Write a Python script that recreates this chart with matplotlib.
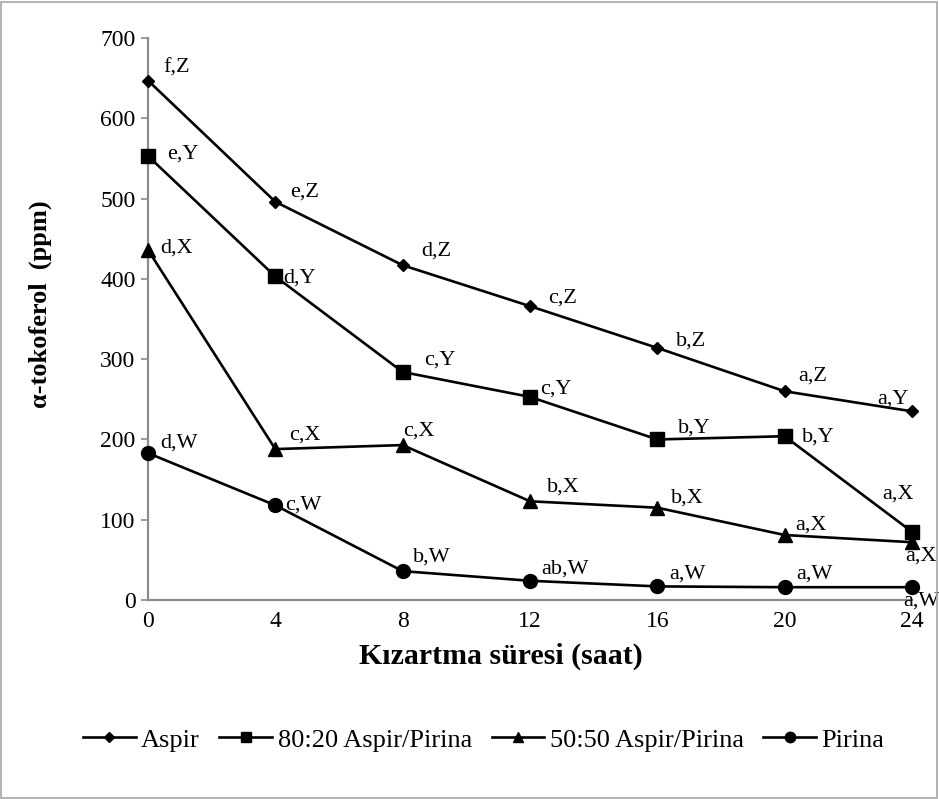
import matplotlib.pyplot as plt
from matplotlib.patches import Rectangle

plt.rcParams['font.family'] = ['Liberation Serif', 'DejaVu Serif']

saat = [0, 4, 8, 12, 16, 20, 24]

aspir = [647, 496, 417, 366, 314, 260, 235]
aspir_8020 = [553, 403, 284, 253, 200, 204, 85]
aspir_5050 = [436, 188, 193, 123, 115, 81, 72]
pirina = [183, 118, 36, 24, 17, 16, 16]

aspir_harf = ['f,Z', 'e,Z', 'd,Z', 'c,Z', 'b,Z', 'a,Z', 'a,Y']
aspir_8020_harf = ['e,Y', 'd,Y', 'c,Y', 'c,Y', 'b,Y', 'b,Y', 'a,X']
aspir_5050_harf = ['d,X', 'c,X', 'c,X', 'b,X', 'b,X', 'a,X', 'a,X']
pirina_harf = ['d,W', 'c,W', 'b,W', 'ab,W', 'a,W', 'a,W', 'a,W']

seriler = [
    ('Aspir', aspir, aspir_harf, 'D', 6.5),
    ('80:20 Aspir/Pirina', aspir_8020, aspir_8020_harf, 's', 10),
    ('50:50 Aspir/Pirina', aspir_5050, aspir_5050_harf, '^', 9.5),
    ('Pirina', pirina, pirina_harf, 'o', 10),
]

# etiket kaydirmalari (piksel): sol kenar dx, orta dy
kaydirma = [
    [(15, -12), (15, -10), (19, -14), (18, -8), (19, -7), (14, -15), (-35, -12)],
    [(19, -2), (8, 2), (21, -12), (10, -8), (21, -11), (17, 1), (-30, -38)],
    [(12, -2), (14, -14), (0, -14), (17, -14), (14, -10), (11, -10), (-7, 14)],
    [(12, -10), (10, 0), (10, -14), (11, -12), (12, -12), (12, -13), (-9, 14)],
]

fig = plt.figure(figsize=(9.39, 7.99), dpi=100)
ax = fig.add_axes([0.1576, 0.249, 0.8136, 0.7035])

for (ad, deger, harf, isaret, boy), kay in zip(seriler, kaydirma):
    ax.plot(saat, deger, color='black', lw=1.9, marker=isaret, ms=boy,
            label=ad, clip_on=False, zorder=3)
    for x, y, h, (dx, dy) in zip(saat, deger, harf, kay):
        ax.annotate(h, (x, y), xytext=(dx * 0.72, -dy * 0.72),
                    textcoords='offset points', ha='left', va='center',
                    fontsize=16, annotation_clip=False)

ax.set_xlim(0, 24)
ax.set_ylim(0, 700)
ax.set_xticks(saat)
ax.set_yticks(range(0, 701, 100))
for s in ['top', 'right']:
    ax.spines[s].set_visible(False)
for s in ['left', 'bottom']:
    ax.spines[s].set_color('#8c8c8c')
    ax.spines[s].set_linewidth(1.6)
ax.tick_params(axis='y', length=5, width=1.2, color='#8c8c8c', labelsize=17, pad=4)
ax.tick_params(axis='x', length=0, labelsize=17, pad=8)

ax.set_xlabel('Kızartma süresi (saat)', fontsize=21.5, fontweight='bold')
ax.xaxis.set_label_coords(0.462, -0.076)
ax.set_ylabel('α-tokoferol  (ppm)', fontsize=19, fontweight='bold')
ax.yaxis.set_label_coords(-0.125, 0.527)

fig.legend(loc='center', bbox_to_anchor=(0.515, 0.074), ncol=4, frameon=False,
           fontsize=19, handlelength=2.0, handletextpad=0.2, columnspacing=0.75,
           markerscale=0.75)

fig.add_artist(Rectangle((0.001, 0.001), 0.997, 0.997, transform=fig.transFigure,
                         fill=False, edgecolor='#a6a6a6', lw=1.2))

fig.savefig('out.png', dpi=100)
